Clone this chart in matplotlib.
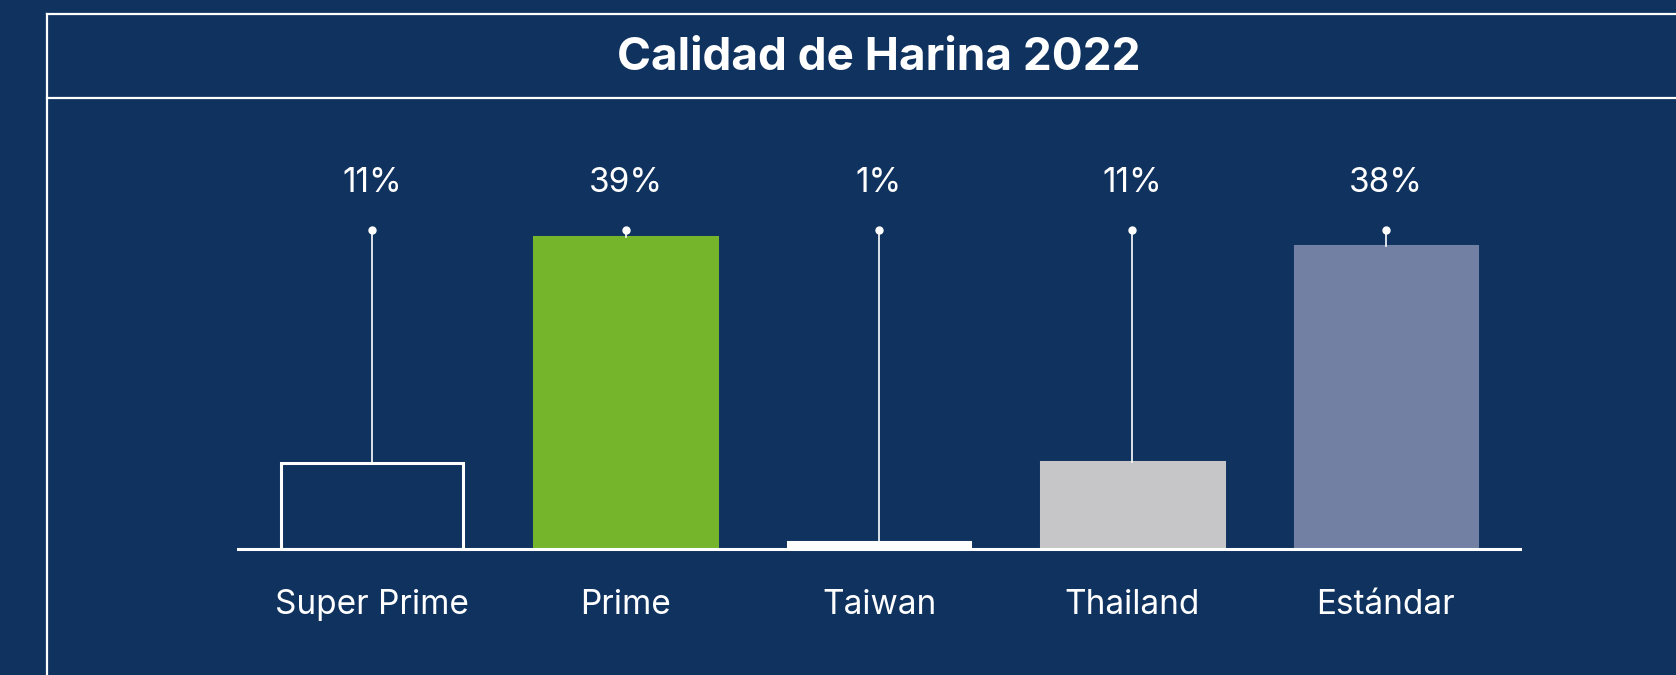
import matplotlib.pyplot as plt
from matplotlib.lines import Line2D

# Datos del grafico
categorias = ['Super Prime', 'Prime', 'Taiwan', 'Thailand', 'Estándar']
valores = [10.8, 39.0, 0.9, 10.9, 37.9]
etiquetas = ['11%', '39%', '1%', '11%', '38%']

fondo = '#10325F'
colores = [fondo, '#74B52C', '#FFFFFF', '#C6C6C8', '#7280A4']
bordes = ['white', '#74B52C', '#FFFFFF', '#C6C6C8', '#7280A4']

plt.rcParams['font.family'] = ['Inter', 'DejaVu Sans']

W, H = 1676, 675
fig = plt.figure(figsize=(W / 100, H / 100), dpi=100, facecolor=fondo)

# Marco y titulo
fig.add_artist(Line2D([47 / W, 1.01], [1 - 14 / H, 1 - 14 / H], color='white', lw=1.6))
fig.add_artist(Line2D([47 / W, 1.01], [1 - 98 / H, 1 - 98 / H], color='white', lw=1.6))
fig.add_artist(Line2D([47 / W, 47 / W], [1 - 14 / H, -0.01], color='white', lw=1.6))
fig.text(879 / W, 1 - 58 / H, 'Calidad de Harina 2022', color='white', fontsize=33,
         fontweight='bold', ha='center', va='center')

ax = fig.add_axes([238 / W, (H - 549) / H, 1282 / W, 400 / H])
ax.set_facecolor(fondo)
ax.set_xlim(-0.53, 4.53)
ax.set_ylim(0, 50)

x = range(len(categorias))
ax.bar(x, valores, width=0.72, color=colores, edgecolor=bordes, linewidth=2.2, zorder=2)

nivel_punto = 39.9
for i, v in enumerate(valores):
    ax.plot([i, i], [v, nivel_punto], color='white', lw=1.2, zorder=3)
    ax.plot(i, nivel_punto, 'o', color='white', markersize=5, zorder=3)
    ax.text(i, 45.8, etiquetas[i], color='white', fontsize=24, ha='center', va='center')
    ax.text(i, -7.0, categorias[i], color='white', fontsize=24, ha='center', va='center')

ax.axhline(0, color='white', lw=2.2, zorder=4, clip_on=False)
for s in ax.spines.values():
    s.set_visible(False)
ax.set_xticks([])
ax.set_yticks([])

fig.savefig('out.png', dpi=100, facecolor=fondo)
